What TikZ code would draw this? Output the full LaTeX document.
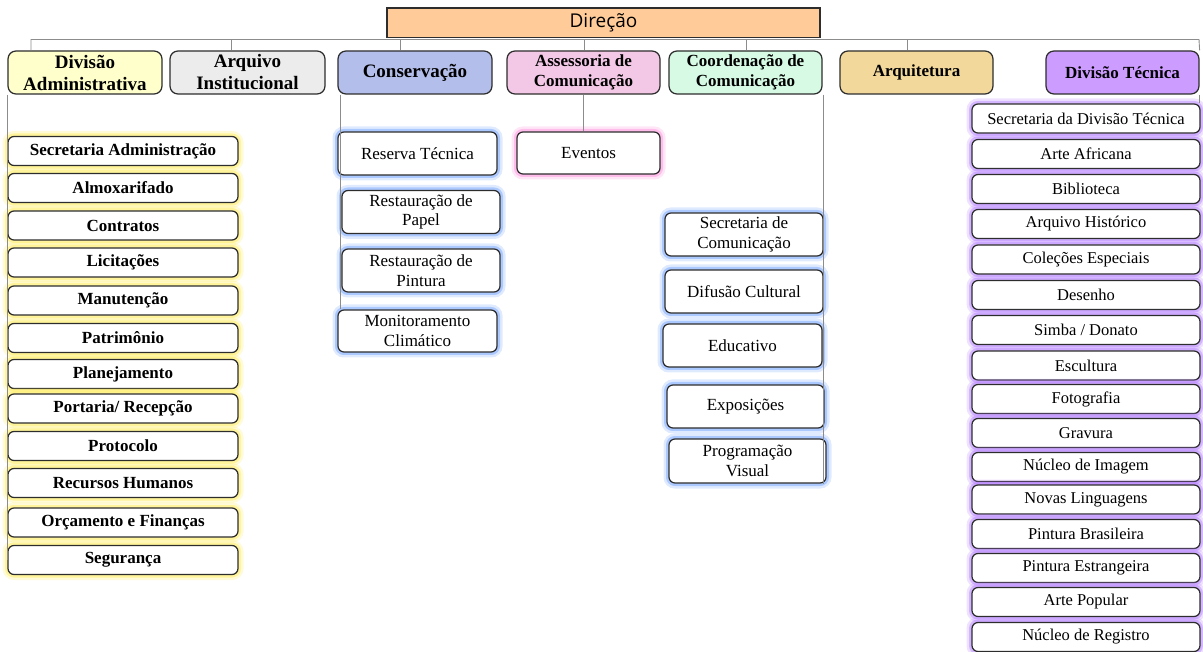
\documentclass[tikz,border=0pt]{standalone}
\usepackage{fontspec}
\setmainfont{Liberation Serif}
\newfontfamily\dirfont{Open Sans}
\definecolor{cdir}{RGB}{255,204,153}
\definecolor{cadm}{RGB}{255,255,204}
\definecolor{carq}{RGB}{236,236,236}
\definecolor{ccons}{RGB}{180,190,235}
\definecolor{cass}{RGB}{243,200,230}
\definecolor{ccoord}{RGB}{214,250,228}
\definecolor{carqt}{RGB}{242,217,155}
\definecolor{ctec}{RGB}{204,156,255}
\definecolor{gY}{RGB}{255,235,80}
\definecolor{gB}{RGB}{110,160,255}
\definecolor{gP}{RGB}{255,140,220}
\definecolor{gV}{RGB}{180,125,255}
\definecolor{border}{RGB}{45,45,45}
\definecolor{connc}{RGB}{140,140,140}
\tikzset{
  conn/.style={draw=connc, line width=0.9pt},
  box/.style={draw=border, line width=1.25pt, rounded corners=6pt, fill=white,
    inner sep=0pt, align=center, font=\fontsize{17}{19.5}\selectfont},
  glow/.style={preaction={draw=#1, draw opacity=0.22, line width=11pt},
    preaction={draw=#1, draw opacity=0.45, line width=6pt}},
  topbox/.style={box, rounded corners=8pt, minimum width=153pt, minimum height=43pt,
    font=\bfseries\fontsize{17}{20}\selectfont, fill=#1},
  bigtop/.style={font=\bfseries\fontsize{19}{22}\selectfont},
  admbox/.style={box, glow=gY, minimum width=230pt, minimum height=29pt,
    font=\bfseries\fontsize{17}{19.5}\selectfont},
  consbox/.style={box, glow=gB, minimum width=158pt, minimum height=43pt},
  evbox/.style={box, glow=gP, minimum width=143pt, minimum height=42pt},
  tecbox/.style={box, glow=gV, minimum width=228pt, minimum height=29pt,
    font=\fontsize{16.5}{19}\selectfont},
}
\begin{document}
\begin{tikzpicture}[x=1pt,y=1pt]
\useasboundingbox (0,0) rectangle (1203,-652);

% coordinates of the bus
\coordinate (busL) at (31,-39.5);
\coordinate (busR) at (1199,-39.5);
\coordinate (tArq) at (231,-39.5);
\coordinate (tCons) at (400,-39.5);
\coordinate (tAss) at (584,-39.5);
\coordinate (tCoord) at (746,-39.5);
\coordinate (tArqt) at (907,-39.5);

% top level boxes
\node[draw=border, line width=1.3pt, fill=cdir, minimum width=433pt, minimum height=29.5pt,
  inner sep=0pt, font=\dirfont\fontsize{19}{22}\selectfont] (dir) at (603.5,-22.75) {Direção};

\node[topbox=cadm, bigtop, minimum width=154pt] (divadm) at (85,-72.5) {Divisão\\Administrativa};
\node[topbox=carq, bigtop, minimum width=155pt] (arq) at (247.5,-72.5) {Arquivo\\Institucional};
\node[topbox=ccons, bigtop, minimum width=154pt] (cons) at (415,-72.5) {Conservação};
\node[topbox=cass] (assess) at (583.5,-72.5) {Assessoria de\\Comunicação};
\node[topbox=ccoord] (coord) at (745.5,-72.5) {Coordenação de\\Comunicação};
\node[topbox=carqt] (arqt) at (916.5,-72.5) {Arquitetura};
\node[topbox=ctec] (divtec) at (1122.5,-72.5) {Divisão Técnica};

% connectors from the bus
\draw[conn] (divadm.north -| busL) -- (busL) -- (busR) -- (divtec.north east);
\draw[conn] (tArq) -- (tArq |- arq.north);
\draw[conn] (tCons) -- (tCons |- cons.north);
\draw[conn] (tAss) -- (tAss |- assess.north);
\draw[conn] (tCoord) -- (tCoord |- coord.north);
\draw[conn] (tArqt) -- (tArqt |- arqt.north);

\coordinate (admL) at ([xshift=0.5pt]divadm.south west);
\coordinate (consL) at ([xshift=3pt]cons.south west);
\coordinate (coordR) at ([xshift=1pt]coord.south east);
\coordinate (tecR) at (divtec.south east);
\coordinate (assB) at (assess.south);

% Divisão Administrativa children
\node[admbox] (a1) at (123,-151) {Secretaria Administração};
\node[admbox] (a2) at (123,-188) {Almoxarifado};
\node[admbox] (a3) at (123,-225.5) {Contratos};
\node[admbox] (a4) at (123,-262.5) {Licitações};
\node[admbox] (a5) at (123,-300.5) {Manutenção};
\node[admbox] (a6) at (123,-338) {Patrimônio};
\node[admbox] (a7) at (123,-374) {Planejamento};
\node[admbox] (a8) at (123,-408.5) {Portaria/ Recepção};
\node[admbox] (a9) at (123,-446) {Protocolo};
\node[admbox] (a10) at (123,-483) {Recursos Humanos};
\node[admbox] (a11) at (123,-522.5) {Orçamento e Finanças};
\node[admbox] (a12) at (123,-560) {Segurança};

% Conservação children
\node[consbox, minimum width=159pt] (c1) at (417.5,-153.5) {Reserva Técnica};
\node[consbox] (c2) at (421,-212) {Restauração de\\Papel};
\node[consbox] (c3) at (421,-270.5) {Restauração de\\Pintura};
\node[consbox, minimum width=159pt, minimum height=42pt] (c4) at (417.5,-331) {Monitoramento\\Climático};

% Assessoria child
\node[evbox] (ev) at (588.5,-153) {Eventos};

% Coordenação children
\node[consbox] (p1) at (744,-234.5) {Secretaria de\\Comunicação};
\node[consbox] (p2) at (744,-291.5) {Difusão Cultural};
\node[consbox, minimum width=159pt] (p3) at (742.5,-345.5) {Educativo};
\node[consbox, minimum width=157pt] (p4) at (745.5,-406.5) {Exposições};
\node[consbox, minimum width=157pt, minimum height=44pt] (p5) at (747.5,-461) {Programação\\Visual};

% Divisão Técnica children
\node[tecbox] (t1) at (1086,-118.5) {Secretaria da Divisão Técnica};
\node[tecbox] (t2) at (1086,-154) {Arte Africana};
\node[tecbox] (t3) at (1086,-189) {Biblioteca};
\node[tecbox] (t4) at (1086,-224) {Arquivo Histórico};
\node[tecbox] (t5) at (1086,-259.5) {Coleções Especiais};
\node[tecbox] (t6) at (1086,-295) {Desenho};
\node[tecbox] (t7) at (1086,-330) {Simba / Donato};
\node[tecbox] (t8) at (1086,-365.5) {Escultura};
\node[tecbox] (t9) at (1086,-399) {Fotografia};
\node[tecbox] (t10) at (1086,-433) {Gravura};
\node[tecbox] (t11) at (1086,-467) {Núcleo de Imagem};
\node[tecbox] (t12) at (1086,-499.5) {Novas Linguagens};
\node[tecbox] (t13) at (1086,-534) {Pintura Brasileira};
\node[tecbox] (t14) at (1086,-568) {Pintura Estrangeira};
\node[tecbox] (t15) at (1086,-602) {Arte Popular};
\node[tecbox] (t16) at (1086,-637) {Núcleo de Registro};

% child connectors
\draw[conn] (admL) -- (admL |- a12.west);
\draw[conn] (consL) -- (consL |- c4.north);
\draw[conn] (assB) -- (assB |- ev.north);
\draw[conn] (coordR) -- (coordR |- p5.south);
\draw[conn] (tecR) -- (tecR |- t1.north);
\end{tikzpicture}
\end{document}
